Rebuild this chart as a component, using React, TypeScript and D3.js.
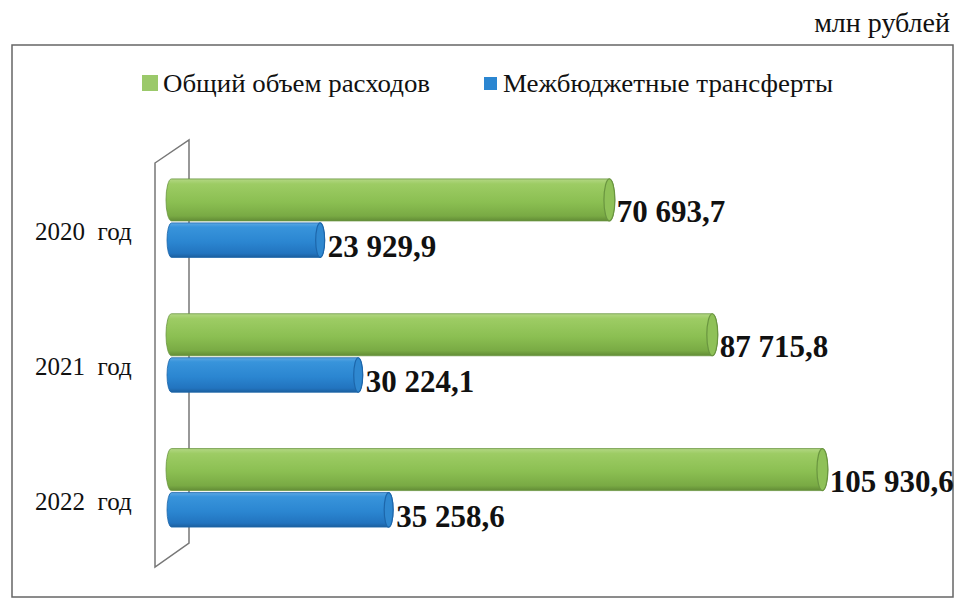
import React from 'react';
import * as d3 from 'd3';

const categories = ['2020', '2021', '2022'];
const categorySuffix = 'год';
const totalExpenses = [70693.7, 87715.8, 105930.6];
const transfers = [23929.9, 30224.1, 35258.6];
const seriesNames = ['Общий объем расходов', 'Межбюджетные трансферты'];
const unitLabel = 'млн рублей';

const W = 955;
const H = 598;

const ruLocale = d3.formatLocale({
  decimal: ',',
  thousands: ' ',
  grouping: [3],
  currency: ['', ''],
});
const fmt = ruLocale.format(',.1f');

const SERIF = 'Liberation Serif, DejaVu Serif, serif';

type Palette = { stops: [number, string][]; cap: string; stroke: string };

const greenPal: Palette = {
  stops: [
    [0, '#b3d784'],
    [0.12, '#9dcc64'],
    [0.55, '#8bbf52'],
    [0.88, '#79aa44'],
    [1, '#628c36'],
  ],
  cap: '#8fc158',
  stroke: '#6a9540',
};
const bluePal: Palette = {
  stops: [
    [0, '#5ca8e4'],
    [0.12, '#3894db'],
    [0.55, '#2b86d1'],
    [0.88, '#2274bf'],
    [1, '#1b5f9f'],
  ],
  cap: '#2f88d0',
  stroke: '#1d66aa',
};

function Cylinder({ x0, x1, y, h, id, pal }: { x0: number; x1: number; y: number; h: number; id: string; pal: Palette }) {
  const rx = Math.max(3, h * 0.13);
  const ry = h / 2;
  const d = `M${x0 + rx},${y} L${x1 - rx},${y} A${rx},${ry} 0 0 1 ${x1 - rx},${y + h} L${x0 + rx},${y + h} A${rx},${ry} 0 0 1 ${x0 + rx},${y} Z`;
  return (
    <g>
      <path d={d} fill={`url(#${id})`} stroke={pal.stroke} strokeWidth={0.8} />
      <ellipse cx={x1 - rx} cy={y + ry} rx={rx} ry={ry} fill={pal.cap} stroke={pal.stroke} strokeWidth={1.2} />
    </g>
  );
}

export default function App() {
  const x = d3.scaleLinear().domain([0, 110000]).range([187.5, 187.5 + 0.006045 * 110000]);
  const depthShift = 7.5;
  const barStart = 166;

  const y = d3.scaleBand<string>().domain(categories).range([154, 558.5]).paddingInner(0).paddingOuter(0);

  const greenH = 42;
  const blueH = 34.5;

  const wallFrontX = 155;
  const wallBackX = 189;

  const serifStyle: React.CSSProperties = { fontFamily: SERIF };

  return (
    <svg
      width={W}
      height={H}
      viewBox={`0 0 ${W} ${H}`}
      style={{ position: 'absolute', left: 0, top: 0, background: '#ffffff', fontFamily: SERIF }}
    >
      <defs>
        {[['gGreen', greenPal], ['gBlue', bluePal]].map(([id, pal]) => (
          <linearGradient key={id as string} id={id as string} x1="0" y1="0" x2="0" y2="1">
            {(pal as Palette).stops.map(([o, c], i) => (
              <stop key={i} offset={o} stopColor={c} />
            ))}
          </linearGradient>
        ))}
      </defs>
      <rect x={0} y={0} width={W} height={H} fill="#ffffff" />

      <text x={950} y={32} textAnchor="end" style={serifStyle} fontSize={28} fill="#111">
        {unitLabel}
      </text>

      <rect x={12} y={45} width={941} height={552} fill="none" stroke="#666" strokeWidth={1.5} />

      <rect x={142} y={75} width={16} height={16} fill="#9bc96a" />
      <text x={163} y={92} style={serifStyle} fontSize={25} fill="#111" textLength={267} lengthAdjust="spacingAndGlyphs">
        {seriesNames[0]}
      </text>
      <rect x={484} y={77} width={13} height={13} fill="#2b86d1" />
      <text x={503} y={92} style={serifStyle} fontSize={25} fill="#111" textLength={330} lengthAdjust="spacingAndGlyphs">
        {seriesNames[1]}
      </text>

      <path
        d={`M${wallFrontX},163 L${wallBackX},140 L${wallBackX},543 L${wallFrontX},567 Z`}
        fill="#ffffff"
        stroke="#777"
        strokeWidth={1.5}
      />

      {categories.map((c) => {
        const mid = (y(c) as number) + y.bandwidth() / 2;
        return (
          <text key={c} x={35} y={mid + 19} style={{ ...serifStyle, whiteSpace: 'pre' }} fontSize={25} fill="#111">
            {`${c}  ${categorySuffix}`}
          </text>
        );
      })}

      {categories.map((c, i) => {
        const mid = (y(c) as number) + y.bandwidth() / 2;
        const gEnd = x(totalExpenses[i]);
        const bEnd = x(transfers[i]) - depthShift;
        const gy = mid - greenH - 0.5;
        const by = mid + 1.5;
        return (
          <g key={c}>
            <Cylinder x0={barStart} x1={gEnd} y={gy} h={greenH} id="gGreen" pal={greenPal} />
            <Cylinder x0={barStart + 1} x1={bEnd} y={by} h={blueH} id="gBlue" pal={bluePal} />
            <text x={gEnd + 2} y={mid + 1} style={serifStyle} fontSize={31} fontWeight="bold" fill="#111">
              {fmt(totalExpenses[i])}
            </text>
            <text x={bEnd + 3} y={mid + 36} style={serifStyle} fontSize={31} fontWeight="bold" fill="#111">
              {fmt(transfers[i])}
            </text>
          </g>
        );
      })}
    </svg>
  );
}
